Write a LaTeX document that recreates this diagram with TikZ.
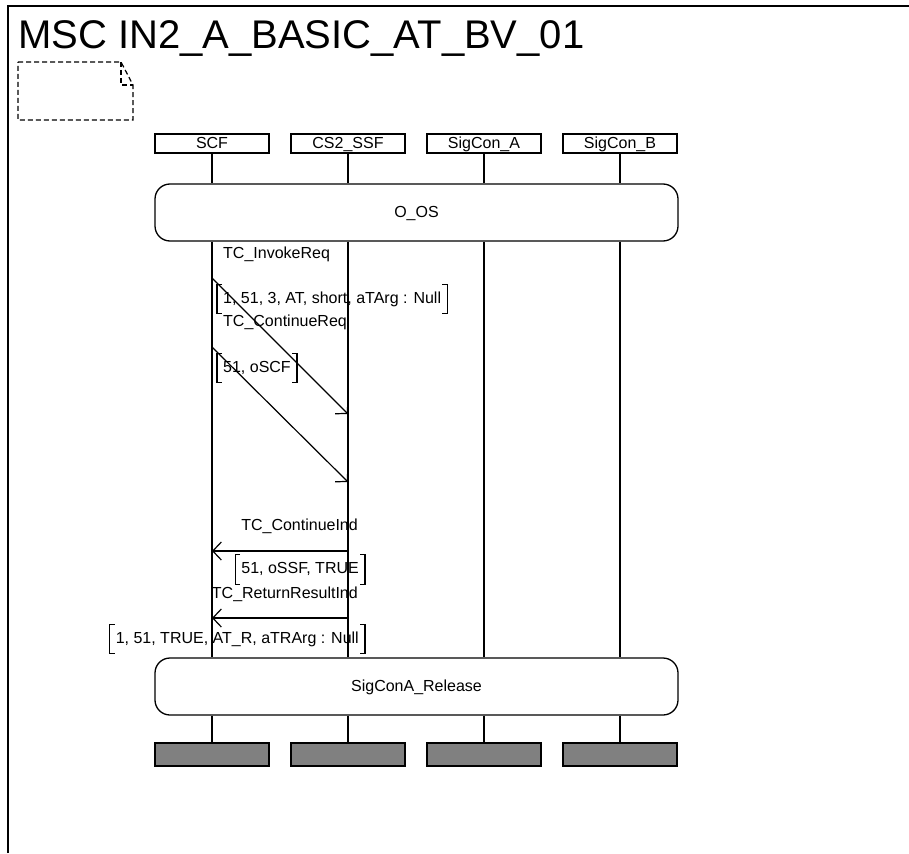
\documentclass[tikz,border=0pt]{standalone}
\usepackage{fontspec}
\setmainfont{Liberation Sans}
\usetikzlibrary{arrows.meta}
\definecolor{endgray}{RGB}{128,128,128}
\begin{document}
\begin{tikzpicture}[x=1pt,y=-1pt,
  every node/.style={font=\fontsize{16}{19}\selectfont, inner sep=0pt},
  txt/.style={text height=11.5pt, text depth=3.5pt},
  ctxt/.style={text height=11.5pt, text depth=1.5pt},
  ln/.style={line width=1.2pt},
  head/.style={draw, ctxt, line width=1.2pt, minimum width=114pt, minimum height=19pt},
  cond/.style={draw, ctxt, line width=1.3pt, rounded corners=15pt, minimum width=523pt, minimum height=57pt},
  endbox/.style={draw, fill=endgray, line width=1.3pt, minimum width=114pt, minimum height=23pt},
  param/.style={txt, inner xsep=6pt, minimum height=29pt},
  msg/.style={line width=1.2pt, -{Straight Barb[length=8.5pt,width=18pt]}},
  note/.style={line width=1.2pt, dash pattern=on 5pt off 3pt}
]
\useasboundingbox (0,0) rectangle (909,853);
% frame
\draw[line width=1.5pt] (8,853) -- (8,6) -- (909,6);
\node[anchor=base west, font=\fontsize{40}{48}\selectfont] (title) at (18,49) {MSC IN2\_A\_BASIC\_AT\_BV\_01};
% comment symbol
\draw[note] (18,62) -- (121,62) -- (133,85) -- (133,120) -- (18,120) -- cycle;
\draw[note] (121,62) -- (121,85) -- (133,85);
% instance heads
\node[head] (scf) at (212,143.5) {SCF};
\node[head] (ssf) at (348,143.5) {CS2\_SSF};
\node[head] (sa) at (484,143.5) {SigCon\_A};
\node[head] (sb) at (620,143.5) {SigCon\_B};
% conditions
\node[cond] (oos) at (416.5,212.5) {O\_OS};
\node[cond] (rel) at (416.5,686.5) {SigConA\_Release};
% end boxes
\node[endbox] (escf) at (212,754.5) {};
\node[endbox] (essf) at (348,754.5) {};
\node[endbox] (esa) at (484,754.5) {};
\node[endbox] (esb) at (620,754.5) {};
% lifelines
\foreach \n in {scf,ssf,sa,sb} {
  \draw[ln] (\n.south) -- (\n.south |- oos.north);
  \draw[ln] (\n.south |- oos.south) -- (\n.south |- rel.north);
  \draw[ln] (\n.south |- rel.south) -- (e\n.north);
}
% message end points
\coordinate (a1s) at (scf.south |- 0,278);
\coordinate (a1e) at (ssf.south |- 0,414);
\coordinate (a2s) at (scf.south |- 0,347);
\coordinate (a2e) at (ssf.south |- 0,482);
\coordinate (a3s) at (ssf.south |- 0,551);
\coordinate (a3e) at (scf.south |- 0,551);
\coordinate (a4s) at (ssf.south |- 0,618);
\coordinate (a4e) at (scf.south |- 0,618);
\draw[msg] (a1s) -- (a1e);
\draw[msg] (a2s) -- (a2e);
\draw[msg] (a3s) -- (a3e);
\draw[msg] (a4s) -- (a4e);
% message labels
\node[txt, anchor=west] (l1) at (223,254) {TC\_InvokeReq};
\node[txt, anchor=west] (l2) at (223,322) {TC\_ContinueReq};
\node[txt, anchor=east] (l3) at (358,526) {TC\_ContinueInd};
\node[txt, anchor=east] (l4) at (358,594) {TC\_ReturnResultInd};
% parameters
\node[param, anchor=west] (p1) at (217,299) {1, 51, 3, AT, short, aTArg : Null};
\node[param, anchor=west] (p2) at (217,368) {51, oSCF};
\node[param, anchor=east] (p3) at (365,569.5) {51, oSSF, TRUE};
\node[param, anchor=east] (p4) at (365,639) {1, 51, TRUE, AT\_R, aTRArg : Null};
\foreach \p in {p1,p2,p3,p4} {
  \draw[ln] ([xshift=5pt]\p.north west) -- (\p.north west) -- (\p.south west) -- ([xshift=5pt]\p.south west);
  \draw[ln] ([xshift=-5pt]\p.north east) -- (\p.north east) -- (\p.south east) -- ([xshift=-5pt]\p.south east);
}
\end{tikzpicture}
\end{document}
